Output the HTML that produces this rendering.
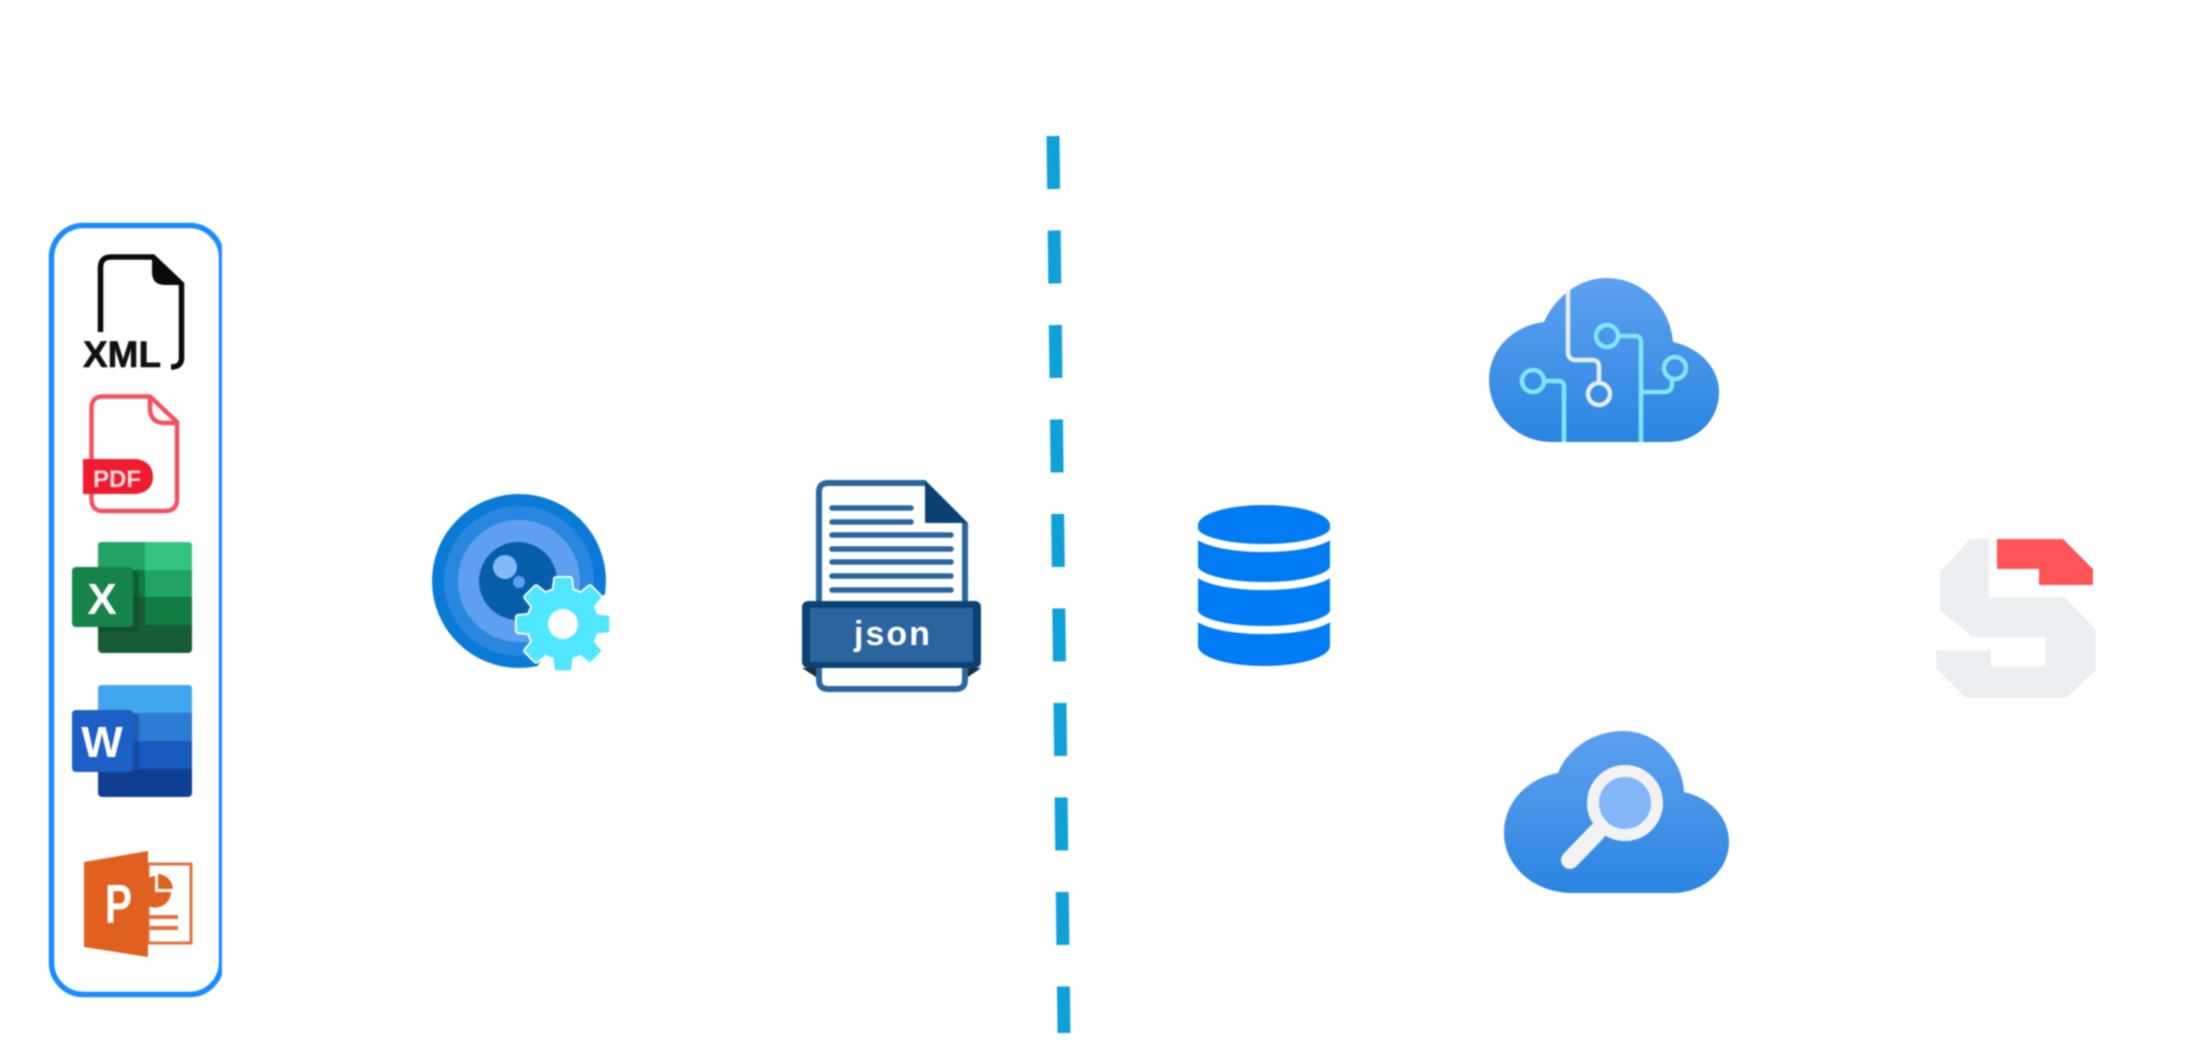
<!DOCTYPE html>
<html lang="en">
<head>
<meta charset="utf-8">
<title>Diagram</title>
<style>
html,body{margin:0;padding:0;background:#fff;width:2198px;height:1040px;overflow:hidden}
svg{display:block;filter:blur(.8px)}
text{font-family:"Liberation Sans",sans-serif}
</style>
</head>
<body>
<svg xmlns="http://www.w3.org/2000/svg" width="2198" height="1040" viewBox="0 0 2198 1040">
<defs>
<linearGradient id="cg" x1="0" y1="0" x2="0" y2="1">
<stop offset="0" stop-color="#5ea0ef"/><stop offset="1" stop-color="#2a85df"/>
</linearGradient>
<clipPath id="boxclip"><rect x="0" y="0" width="222" height="1040"/></clipPath>
<clipPath id="xlclip"><rect x="98" y="542" width="94" height="111"/></clipPath>
<clipPath id="wdclip"><rect x="98" y="685" width="94" height="112"/></clipPath>
<g id="gear">
<circle r="34"/>
<path d="M-7 -45H7L12 0H-12Z"/>
<path d="M-7 -45H7L12 0H-12Z" transform="rotate(45)"/>
<path d="M-7 -45H7L12 0H-12Z" transform="rotate(90)"/>
<path d="M-7 -45H7L12 0H-12Z" transform="rotate(135)"/>
<path d="M-7 -45H7L12 0H-12Z" transform="rotate(180)"/>
<path d="M-7 -45H7L12 0H-12Z" transform="rotate(225)"/>
<path d="M-7 -45H7L12 0H-12Z" transform="rotate(270)"/>
<path d="M-7 -45H7L12 0H-12Z" transform="rotate(315)"/>
</g>
</defs>
<rect width="2198" height="1040" fill="#fff"/>

<!-- source box -->
<rect x="51.5" y="225.5" width="170" height="769" rx="32" fill="none" stroke="#1a8cff" stroke-width="5.500" clip-path="url(#boxclip)"/>

<!-- XML -->
<path d="M100.500 332V268Q100.500 257 111 257H153L181.500 284V358Q181.500 367 171 367" fill="none" stroke="#0a0a0a" stroke-width="5.500"/>
<path d="M152 256L183 285H165Q152 285 152 272Z" fill="#0a0a0a"/>
<text x="83" y="367" font-size="37" font-weight="700" fill="#111" stroke="#111" stroke-width=".6">XML</text>

<!-- PDF -->
<path d="M150 396.500H103Q91.500 396.500 91.500 408V499Q91.500 511 103 511H165Q177 511 177 499V422Z" fill="#fff" stroke="#f4505e" stroke-width="4.500"/>
<path d="M150 396V408Q150 423 165 423H177" fill="none" stroke="#f4505e" stroke-width="4.500"/>
<path d="M83 459H137Q153 462 153 477Q153 491 137 494H83Z" fill="#ee1c2e"/>
<text x="93" y="487" font-size="24" font-weight="700" fill="#ffd9dc">PDF</text>

<!-- Excel -->
<rect x="98" y="542" width="94" height="111" rx="4" fill="#185c37"/>
<path d="M102 542H145V570H98V546Q98 542 102 542Z" fill="#21a366"/>
<path d="M145 542H188Q192 542 192 546V570H145Z" fill="#33c481"/>
<rect x="98" y="570" width="47" height="27" fill="#107c41"/>
<rect x="145" y="570" width="47" height="27" fill="#21a366"/>
<rect x="98" y="597" width="47" height="28" fill="#185c37"/>
<rect x="145" y="597" width="47" height="28" fill="#107c41"/>
<rect x="76" y="570" width="63" height="62" rx="4" fill="#0f4a2a" opacity=".55" clip-path="url(#xlclip)"/>
<rect x="72" y="567" width="61" height="60" rx="4" fill="#16834a"/>
<text x="102" y="614" font-size="44" font-weight="700" fill="#fff" text-anchor="middle">X</text>

<!-- Word -->
<rect x="98" y="685" width="94" height="112" rx="4" fill="#103f91"/>
<path d="M102 685H188Q192 685 192 689V713H98V689Q98 685 102 685Z" fill="#41a5ee"/>
<rect x="98" y="713" width="94" height="28" fill="#2b7cd3"/>
<rect x="98" y="741" width="94" height="28" fill="#185abd"/>
<rect x="76" y="714" width="63" height="62" rx="4" fill="#0f3f91" opacity=".5" clip-path="url(#wdclip)"/>
<rect x="72" y="710" width="61" height="62" rx="4" fill="#1d5fc4"/>
<text x="102" y="757" font-size="44" font-weight="700" fill="#fff" text-anchor="middle">W</text>

<!-- PowerPoint -->
<rect x="148" y="864" width="43" height="79" fill="#fff" stroke="#e4703a" stroke-width="3"/>
<path d="M155 876V892H171A16 16 0 0 1 148 906V878A16 16 0 0 1 155 876Z" fill="#e0601f"/>
<path d="M158 874A16 16 0 0 1 173 889H158Z" fill="#e0601f"/>
<path d="M148 917H178M148 928H178" stroke="#e4703a" stroke-width="4" fill="none"/>
<path d="M84 862L148 851V957L84 947Z" fill="#e0601f"/>
<text transform="translate(118.500,923) scale(.74,1)" font-size="55" font-weight="700" fill="#fff" text-anchor="middle">P</text>

<!-- Eye with gear -->
<circle cx="519" cy="581" r="87" fill="#0a7ad6"/>
<circle cx="519" cy="581" r="75" fill="#2987e0"/>
<circle cx="519" cy="581" r="61" fill="#5ea0ef"/>
<circle cx="518" cy="581" r="39" fill="#075ea8"/>
<circle cx="505" cy="567" r="12" fill="#83b9f9"/>
<circle cx="519" cy="582" r="6" fill="#5ea0ef"/>
<polygon points="563,624 608,592 625,685 534,672" fill="#fff"/>
<g transform="translate(563,624)" stroke-linejoin="round">
<use href="#gear" fill="#fff" stroke="#fff" stroke-width="6"/>
<use href="#gear" fill="#50e6ff" stroke="#50e6ff" stroke-width="2.500"/>
<circle r="15" fill="#fff"/>
</g>

<!-- JSON -->
<path d="M925 483H828Q819 483 819 492V680Q819 689 828 689H956Q965 689 965 680V523" fill="#fff" stroke="#2a659f" stroke-width="6"/>
<path d="M925 480L968 523H925Z" fill="#0a4274"/>
<path d="M832 508H911M832 522H911M832 535H951M832 549H951M832 562H951M832 576H951M832 590H951" stroke="#2a659f" stroke-width="5.500" stroke-linecap="round" fill="none"/>
<path d="M802 668L816 677V668ZM981 668L968 677V668Z" fill="#1d2b3a"/>
<rect x="802" y="601" width="179" height="67" rx="6" fill="#0a4274"/>
<rect x="810" y="608" width="163" height="54" fill="#2b659f"/>
<text x="893" y="645" font-size="34" font-weight="700" letter-spacing="2" fill="#fff" text-anchor="middle">json</text>

<!-- Dashed divider -->
<line x1="1053" y1="136" x2="1064" y2="1033" stroke="#10a0d8" stroke-width="13" stroke-dasharray="53 41.500"/>

<!-- Database -->
<path d="M1198 525A66 20 0 0 1 1330 525V646A66 20 0 0 1 1198 646Z" fill="#007bf3"/>
<path d="M1195 530A69 18 0 0 0 1333 530M1195 568A69 18 0 0 0 1333 568M1195 612A69 18 0 0 0 1333 612" fill="none" stroke="#fff" stroke-width="8"/>

<!-- AI cloud -->
<path d="M1552 442C1515 442 1489 412 1489 380C1489 350 1512 326 1544 322C1556 296 1580 278 1606 278C1642 278 1670 306 1673 342C1700 348 1719 368 1719 392C1719 420 1697 442 1669 442Z" fill="url(#cg)"/>
<g fill="none" stroke-width="4.500">
<path d="M1568 290V352Q1568 360 1576 360H1592Q1599 360 1599 367V383" stroke="#e6eef5"/>
<circle cx="1599" cy="394" r="11" stroke="#e6eef5"/>
<g stroke="#7fe6fb">
<circle cx="1607" cy="336" r="11"/>
<path d="M1618 336H1635Q1641 336 1641 342V442"/>
<circle cx="1675" cy="368" r="11"/>
<path d="M1641 392H1664Q1672 392 1672 384V379"/>
<circle cx="1533" cy="381" r="11"/>
<path d="M1544 381H1558Q1564 381 1564 387V442"/>
</g>
</g>

<!-- Search cloud -->
<path d="M1572 893C1534 893 1504 866 1504 833C1504 802 1528 778 1558 773C1568 748 1594 731 1623 731C1656 731 1682 758 1684 792C1711 798 1729 818 1729 842C1729 870 1704 893 1673 893Z" fill="url(#cg)"/>
<circle cx="1625" cy="803" r="32" fill="#83b5f7" stroke="#f2f2f2" stroke-width="12"/>
<line x1="1597" y1="832" x2="1570" y2="860" stroke="#f2f2f2" stroke-width="18" stroke-linecap="round"/>

<!-- S logo -->
<polygon points="1970,539 1989,539 1989,597 2065,597 2096,630 2096,670 2066,698 1966,698 1936,668 1936,650 1991,650 1991,666 2045,666 2045,637 1972,637 1940,610 1940,572" fill="#ebeef0"/>
<polygon points="1997,539 2063,539 2093,569 2093,585 2039,585 2039,569 1997,569" fill="#ff5558"/>
</svg>
</body>
</html>
